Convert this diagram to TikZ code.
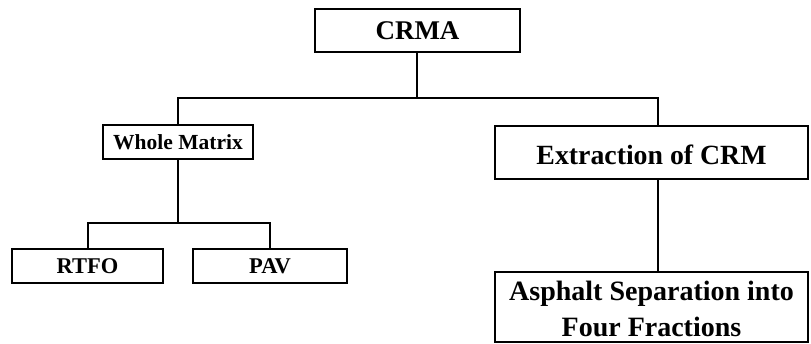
\documentclass[tikz,border=0pt]{standalone}
\usepackage{fontspec}
\setmainfont{Liberation Serif}
\begin{document}
\begin{tikzpicture}[x=1pt,y=-1pt,line width=2.2pt,
  box/.style={draw,rectangle,inner sep=0pt,font=\bfseries,align=center},
  conn/.style={draw,line cap=rect}]
\useasboundingbox (0,0) rectangle (811,343);
\node[box,minimum width=205pt,minimum height=43pt,font=\bfseries\fontsize{27}{30}\selectfont] (crma) at (417.5,30.5) {CRMA};
\node[box,minimum width=150pt,minimum height=34pt,font=\bfseries\fontsize{21.5}{24}\selectfont] (whole) at (178,142) {Whole Matrix};
\node[box,minimum width=151pt,minimum height=34pt,font=\bfseries\fontsize{22.5}{25}\selectfont] (rtfo) at (87.5,266) {RTFO};
\node[box,minimum width=154pt,minimum height=34pt,font=\bfseries\fontsize{22.5}{25}\selectfont] (pav) at (270,266) {PAV};
\node[box,minimum width=313pt,minimum height=53pt,font=\bfseries\fontsize{27.8}{30}\selectfont] (extr) at (651.5,152.5) {\rule{0pt}{24pt}Extraction of CRM};
\node[box,minimum width=313pt,minimum height=70pt,font=\bfseries\fontsize{28}{36}\selectfont] (asph) at (651.5,307) {\rule{0pt}{23.5pt}Asphalt Separation into\\Four Fractions};
\coordinate (j1) at (417,98);
\coordinate (jl) at (178,98);
\coordinate (jr) at (658,98);
\coordinate (j2) at (178,223);
\coordinate (j2l) at (88,223);
\coordinate (j2r) at (270,223);
\draw[conn] (crma.south -| j1) -- (j1);
\draw[conn] (jl) -- (jr);
\draw (jl) -- (whole.north);
\draw (jr) -- (extr.north -| jr);
\draw (whole.south) -- (j2);
\draw[conn] (j2l) -- (j2r);
\draw (j2l) -- (rtfo.north -| j2l);
\draw (j2r) -- (pav.north -| j2r);
\draw (extr.south -| jr) -- (asph.north -| jr);
\end{tikzpicture}
\end{document}
